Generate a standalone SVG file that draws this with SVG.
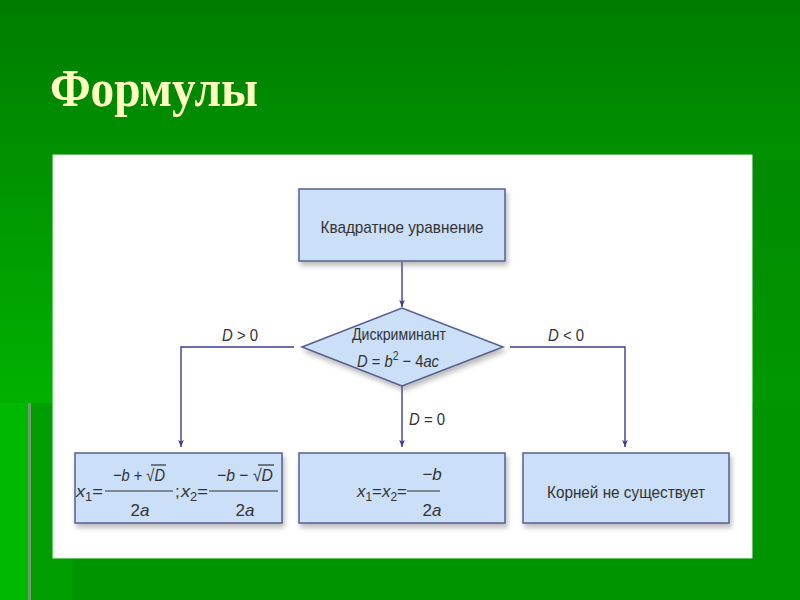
<svg xmlns="http://www.w3.org/2000/svg" width="800" height="600" viewBox="0 0 800 600">
<defs>
<linearGradient id="bg" x1="0" y1="0" x2="0" y2="403" gradientUnits="userSpaceOnUse">
<stop offset="0" stop-color="#007c00"/>
<stop offset="1" stop-color="#00b200"/>
</linearGradient>
<linearGradient id="bgr" x1="0" y1="160" x2="0" y2="403" gradientUnits="userSpaceOnUse">
<stop offset="0" stop-color="#008a00"/>
<stop offset="1" stop-color="#009800"/>
</linearGradient>
<filter id="sh" x="-10%" y="-20%" width="125%" height="150%">
<feDropShadow dx="2" dy="4" stdDeviation="2.5" flood-color="#6a6a6a" flood-opacity="0.45"/>
</filter>
<marker id="ah" viewBox="0 0 10 10" refX="10" refY="5" markerWidth="10" markerHeight="7" markerUnits="userSpaceOnUse" orient="auto">
<path d="M0,1 L10,5 L0,9 L2,5 Z" fill="#3d3d8f"/>
</marker>
<style>
.box{fill:#cbdff8;stroke:#56608f;stroke-width:1.5}
.lbl{font-family:"Liberation Sans",Arial,sans-serif;font-size:17px;fill:#333}
.m{font-family:"Liberation Sans",Arial,sans-serif;font-size:17px;fill:#333;font-style:italic}
.mn{font-family:"Liberation Sans",Arial,sans-serif;font-size:17px;fill:#333}
.sub{font-size:12px}
.cn{fill:none;stroke:#3d3d8f;stroke-width:1.4}
.bar{stroke:#333;stroke-width:1.2}
</style>
</defs>
<rect width="800" height="600" fill="url(#bg)"/>
<rect x="753" y="160" width="47" height="243" fill="url(#bgr)"/>
<rect x="0" y="403" width="800" height="197" fill="#009400"/>
<rect x="0" y="403" width="28" height="197" fill="#00b800"/>
<rect x="28" y="403" width="3" height="197" fill="#6e9c6e"/>
<rect x="31" y="403" width="42" height="197" fill="#009e00"/>
<text x="50" y="106" font-family="'Liberation Serif',serif" font-weight="bold" font-size="53" fill="#ffffc0" textLength="208" lengthAdjust="spacingAndGlyphs">Формулы</text>
<rect x="53" y="155" width="699" height="403" fill="#ffffff" stroke="#d8f0d8" stroke-width="1"/>
<g id="connectors">
<line class="cn" x1="402" y1="262" x2="402" y2="307" marker-end="url(#ah)"/>
<polyline class="cn" points="294,347 181,347 181,447" marker-end="url(#ah)"/>
<polyline class="cn" points="510,347 625,347 625,447" marker-end="url(#ah)"/>
<line class="cn" x1="402" y1="386" x2="402" y2="447" marker-end="url(#ah)"/>
<text class="m" x="240" y="341" text-anchor="middle" textLength="36" lengthAdjust="spacingAndGlyphs">D <tspan font-style="normal">&gt; 0</tspan></text>
<text class="m" x="566" y="341" text-anchor="middle" textLength="36" lengthAdjust="spacingAndGlyphs">D <tspan font-style="normal">&lt; 0</tspan></text>
<text class="m" x="409" y="425" textLength="36" lengthAdjust="spacingAndGlyphs">D <tspan font-style="normal">= 0</tspan></text>
</g>
<g id="start">
<rect class="box" x="299" y="189" width="206" height="72" filter="url(#sh)"/>
<text class="lbl" x="402" y="233" text-anchor="middle" textLength="163" lengthAdjust="spacingAndGlyphs">Квадратное уравнение</text>
</g>
<g id="discriminant">
<polygon class="box" points="302,347 402,308 503,347 402,386" filter="url(#sh)"/>
<text class="lbl" x="399" y="340" text-anchor="middle" textLength="94" lengthAdjust="spacingAndGlyphs">Дискриминант</text>
<text class="m" x="357" y="367" textLength="82" lengthAdjust="spacingAndGlyphs">D<tspan font-style="normal"> = </tspan>b<tspan class="sub" font-style="normal" dy="-7">2</tspan><tspan font-style="normal" dy="7"> − 4</tspan>ac</text>
</g>
<g id="two-roots">
<rect class="box" x="75" y="453" width="207" height="70" filter="url(#sh)"/>
<text class="m" x="76" y="497" textLength="27" lengthAdjust="spacingAndGlyphs">x<tspan class="sub" font-style="normal" dy="4">1</tspan><tspan font-style="normal" dy="-4">=</tspan></text>
<line class="bar" x1="105" y1="491" x2="173" y2="491"/>
<text class="m" x="113" y="481" textLength="52" lengthAdjust="spacingAndGlyphs">−b <tspan font-style="normal">+ √</tspan>D</text>
<line class="bar" x1="151" y1="465" x2="166" y2="465"/>
<text class="m" x="140" y="516" text-anchor="middle"><tspan font-style="normal">2</tspan>a</text>
<text class="mn" x="175" y="497">;</text>
<text class="m" x="181" y="497" textLength="27" lengthAdjust="spacingAndGlyphs">x<tspan class="sub" font-style="normal" dy="4">2</tspan><tspan font-style="normal" dy="-4">=</tspan></text>
<line class="bar" x1="209" y1="491" x2="278" y2="491"/>
<text class="m" x="217" y="481" textLength="56" lengthAdjust="spacingAndGlyphs">−b <tspan font-style="normal">− √</tspan>D</text>
<line class="bar" x1="258" y1="465" x2="274" y2="465"/>
<text class="m" x="245" y="516" text-anchor="middle"><tspan font-style="normal">2</tspan>a</text>
</g>
<g id="one-root">
<rect class="box" x="299" y="453" width="206" height="70" filter="url(#sh)"/>
<text class="m" x="357" y="497" textLength="50" lengthAdjust="spacingAndGlyphs">x<tspan class="sub" font-style="normal" dy="4">1</tspan><tspan font-style="normal" dy="-4">=</tspan>x<tspan class="sub" font-style="normal" dy="4">2</tspan><tspan font-style="normal" dy="-4">=</tspan></text>
<line class="bar" x1="407" y1="491" x2="440" y2="491"/>
<text class="m" x="432" y="480" text-anchor="middle">−b</text>
<text class="m" x="432" y="516" text-anchor="middle"><tspan font-style="normal">2</tspan>a</text>
</g>
<g id="no-roots">
<rect class="box" x="523" y="453" width="206" height="70" filter="url(#sh)"/>
<text class="lbl" x="626" y="498" text-anchor="middle" textLength="158" lengthAdjust="spacingAndGlyphs">Корней не существует</text>
</g>
</svg>
